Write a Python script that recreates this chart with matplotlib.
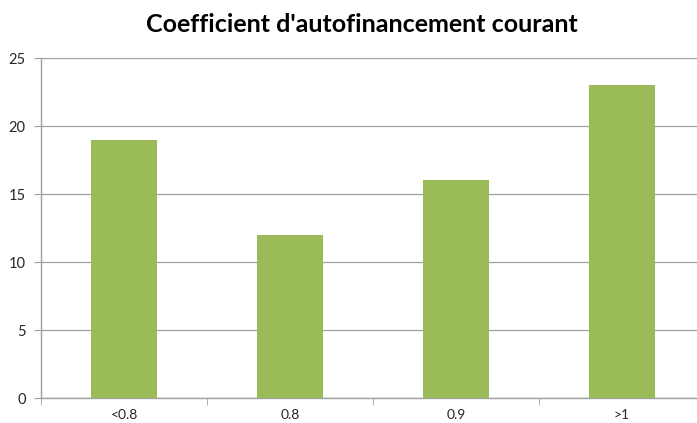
import matplotlib
matplotlib.use("Agg")
import matplotlib.pyplot as plt
from matplotlib.ticker import FixedLocator

categories = ["<0.8", "0.8", "0.9", ">1"]
values = [19, 12, 16, 23]
yticks = [0, 5, 10, 15, 20, 25]

plt.rcParams['font.family'] = ['Lato', 'DejaVu Sans']

W, H = 697, 423
fig = plt.figure(figsize=(W / 100, H / 100), dpi=100)
ax = fig.add_axes([41 / W, 25 / H, 664 / W, 340 / H])

x = list(range(len(categories)))
ax.bar(x, values, width=0.4, color="#9BBB59", zorder=3)
ax.set_xlim(-0.5, len(categories) - 0.5)
ax.set_ylim(0, 25)
ax.set_yticks(yticks)
ax.set_xticks(x)
ax.set_xticklabels(categories)
ax.xaxis.set_minor_locator(FixedLocator([i - 0.5 for i in range(len(categories) + 1)]))
ax.tick_params(axis='x', which='major', length=0, pad=8, labelsize=10, labelcolor="#262626")
ax.tick_params(axis='x', which='minor', length=5, color="#a0a0a0", direction='out')
ax.tick_params(axis='y', length=5, color="#a0a0a0", direction='out', labelsize=10.5,
               labelcolor="#262626", pad=6)
ax.grid(axis='y', color="#a0a0a0", linewidth=0.9, zorder=0)
for s in ["top", "right"]:
    ax.spines[s].set_visible(False)
for s in ["left", "bottom"]:
    ax.spines[s].set_color("#a0a0a0")
    ax.spines[s].set_linewidth(1.0)

fig.text(362 / W, 1 - 24 / H, "Coefficient d'autofinancement courant",
         ha='center', va='center', fontsize=18, fontweight='bold')

fig.savefig("out.png", dpi=100)
